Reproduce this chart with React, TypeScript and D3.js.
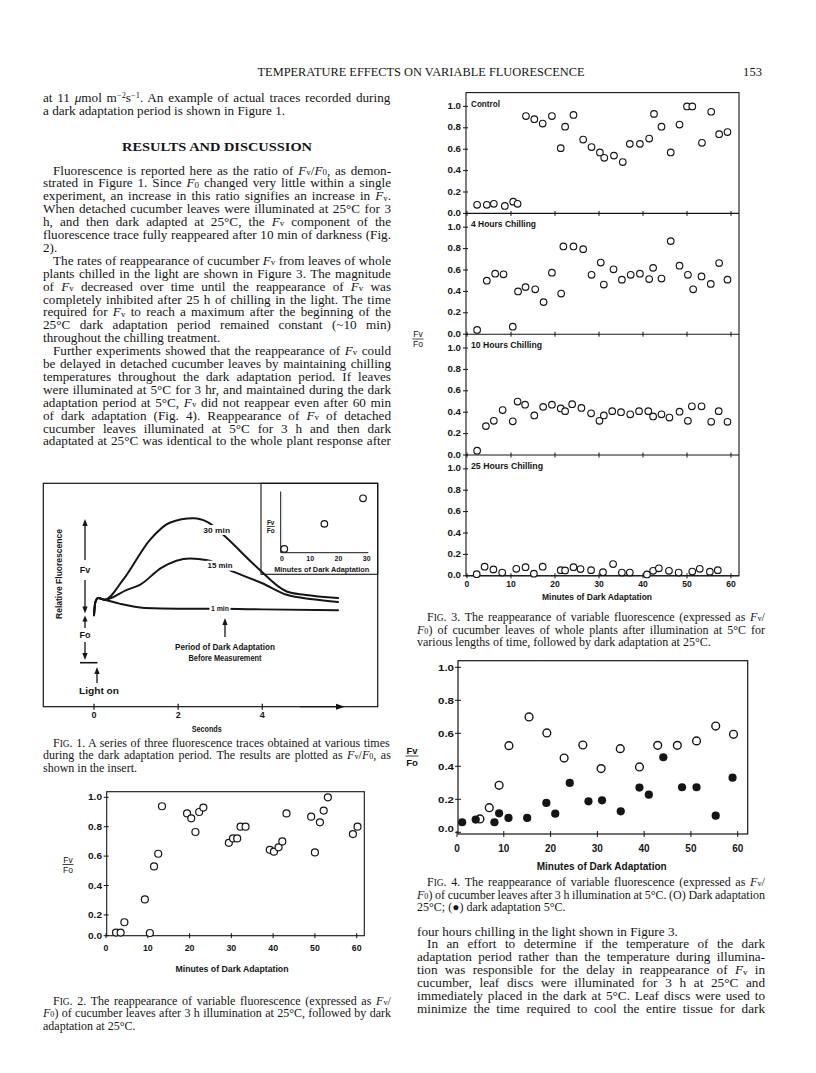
import React from 'react';
import * as d3 from 'd3';

const SERIF = '"Liberation Serif", "Times New Roman", serif';
const SANS = '"Liberation Sans", Arial, sans-serif';
const INK = '#151515';

// ---------- Fig. 3 data (minutes of dark adaptation, Fv/Fo) ----------
const controlMinutes = [2.3,4.5,6.1,8.6,10.5,11.5,13.4,15.3,17.2,19.3,21.3,22.3,24.2,26.4,28.3,30.2,31.2,33.4,35.4,37.0,39.3,41.4,42.5,44.2,46.3,48.3,50.0,51.2,53.4,55.5,57.3,59.2];
const controlFvFo = [0.08,0.08,0.09,0.07,0.11,0.09,0.91,0.88,0.84,0.91,0.61,0.81,0.92,0.69,0.62,0.57,0.52,0.54,0.48,0.65,0.65,0.70,0.93,0.81,0.57,0.83,1.0,1.0,0.66,0.95,0.74,0.76];
const chill4Minutes = [2.3,4.5,6.4,8.3,10.4,11.6,13.3,15.5,17.4,19.3,21.4,21.9,24.2,26.4,28.3,30.4,31.1,33.3,35.2,37.2,39.3,41.4,42.3,44.2,46.3,48.3,50.2,51.4,53.3,55.4,57.3,59.2];
const chill4FvFo = [0.04,0.50,0.565,0.56,0.07,0.40,0.44,0.42,0.30,0.575,0.38,0.82,0.82,0.795,0.555,0.67,0.464,0.607,0.51,0.555,0.565,0.515,0.62,0.52,0.87,0.64,0.555,0.42,0.54,0.47,0.665,0.51];
const chill10Minutes = [2.3,4.3,6.1,8.1,10.4,11.5,13.2,15.3,17.3,19.3,21.3,22.3,23.9,26.0,28.2,30.1,31.1,33.0,35.0,37.1,39.1,41.2,42.3,44.2,46.0,48.3,50.2,51.1,53.3,55.5,57.2,59.2];
const chill10FvFo = [0.04,0.27,0.32,0.42,0.315,0.50,0.47,0.37,0.45,0.47,0.435,0.41,0.475,0.44,0.39,0.32,0.37,0.41,0.40,0.38,0.41,0.41,0.36,0.38,0.35,0.405,0.32,0.455,0.455,0.31,0.41,0.31];
const chill25Minutes = [2.2,4.0,6.0,8.0,11.2,13.3,15.2,17.2,21.3,22.3,24.2,25.8,28.2,30.9,33.2,35.2,37.0,40.9,42.3,43.6,45.9,48.1,51.2,52.9,55.2,57.0];
const chill25FvFo = [0.015,0.085,0.06,0.03,0.065,0.08,0.02,0.085,0.053,0.05,0.08,0.063,0.053,0.034,0.11,0.03,0.03,0.013,0.047,0.07,0.047,0.03,0.04,0.065,0.038,0.053];
const fig3Labels = ['Control', '4 Hours Chilling', '10 Hours Chilling', '25 Hours Chilling'];

// ---------- Fig. 4 data ----------
const dark25Minutes = [4.9,6.9,9.0,11.1,15.4,19.2,22.9,26.9,30.8,34.9,39.0,42.9,47.1,51.2,55.3,59.1];
const dark25FvFo = [0.081,0.149,0.285,0.525,0.699,0.602,0.45,0.529,0.386,0.507,0.396,0.527,0.527,0.554,0.644,0.594];
const dark5Minutes = [1.1,4.0,8.0,9.0,11.0,15.0,19.1,21.0,24.1,28.1,31.0,35.0,39.0,41.0,44.1,48.1,51.2,55.3,58.9];
const dark5FvFo = [0.061,0.077,0.061,0.115,0.087,0.087,0.178,0.113,0.299,0.188,0.194,0.127,0.271,0.228,0.455,0.273,0.273,0.101,0.331];

// ---------- Fig. 2 data ----------
const fig2Minutes = [2.4,3.5,4.4,9.3,10.5,11.5,12.5,13.4,19.4,20.4,21.4,22.3,23.3,29.4,30.4,31.4,32.2,33.4,39.2,40.2,41.3,42.2,43.2,49.1,50.0,51.2,52.1,53.1,59.1,60.2];
const fig2FvFo = [0.08,0.08,0.15,0.305,0.077,0.53,0.616,0.939,0.89,0.857,0.764,0.9,0.93,0.69,0.72,0.72,0.8,0.8,0.643,0.63,0.66,0.70,0.89,0.868,0.625,0.83,0.91,1.0,0.75,0.80];

// ---------- Fig. 1 data (seconds, relative fluorescence in Fo units) ----------
const trace1Seconds = [0,0.03,0.1,0.25,0.6,1.2,2,3,4,5.8];
const trace1Fluor = [0.87,1.1,1.18,1.15,1.08,1.0,0.985,0.985,0.975,0.96];
const trace15Seconds = [0,0.03,0.1,0.25,0.78,1.09,1.6,2.28,2.7,3.31,4.0,4.58,5.2,5.8];
const trace15Fluor = [0.87,1.1,1.18,1.15,1.33,1.42,1.73,1.9,1.87,1.66,1.45,1.24,1.16,1.11];
const trace30Seconds = [0,0.03,0.1,0.25,0.69,1.33,1.8,2.36,2.7,3.07,3.86,4.58,5.0,5.8];
const trace30Fluor = [0.87,1.1,1.18,1.15,1.51,2.24,2.55,2.63,2.56,2.33,1.75,1.3,1.24,1.18];
const traceLabels = ['1 min', '15 min', '30 min'];
const insetMinutes = [0.8, 15, 28.7];
const insetFvFo = [0.07, 0.53, 1.0];
const secondsTicks = [0, 2, 4];
const insetTicks = [0, 10, 20, 30];

const minuteTicks = [0, 10, 20, 30, 40, 50, 60];
const ratioTicks = [0, 0.2, 0.4, 0.6, 0.8, 1.0];

// ---------- Text ----------
const headerText = 'TEMPERATURE EFFECTS ON VARIABLE FLUORESCENCE';
const leftLines: [string, boolean, boolean][] = [
  ['at 11 {*μ}mol m{^−2}s{^−1}. An example of actual traces recorded during', false, true],
  ['a dark adaptation period is shown in Figure 1.', false, false],
];
const leftBody: [string, boolean, boolean][] = [
  ['Fluorescence is reported here as the ratio of {*F}{_v}/{*F}{_0}, as demon-', true, true],
  ['strated in Figure 1. Since {*F}{_0} changed very little within a single', false, true],
  ['experiment, an increase in this ratio signifies an increase in {*F}{_v}.', false, true],
  ['When detached cucumber leaves were illuminated at 25°C for 3', false, true],
  ['h, and then dark adapted at 25°C, the {*F}{_v} component of the', false, true],
  ['fluorescence trace fully reappeared after 10 min of darkness (Fig.', false, true],
  ['2).', false, false],
  ['The rates of reappearance of cucumber {*F}{_v} from leaves of whole', true, true],
  ['plants chilled in the light are shown in Figure 3. The magnitude', false, true],
  ['of {*F}{_v} decreased over time until the reappearance of {*F}{_v} was', false, true],
  ['completely inhibited after 25 h of chilling in the light. The time', false, true],
  ['required for {*F}{_v} to reach a maximum after the beginning of the', false, true],
  ['25°C dark adaptation period remained constant (~10 min)', false, true],
  ['throughout the chilling treatment.', false, false],
  ['Further experiments showed that the reappearance of {*F}{_v} could', true, true],
  ['be delayed in detached cucumber leaves by maintaining chilling', false, true],
  ['temperatures throughout the dark adaptation period. If leaves', false, true],
  ['were illuminated at 5°C for 3 hr, and maintained during the dark', false, true],
  ['adaptation period at 5°C, {*F}{_v} did not reappear even after 60 min', false, true],
  ['of dark adaptation (Fig. 4). Reappearance of {*F}{_v} of detached', false, true],
  ['cucumber leaves illuminated at 5°C for 3 h and then dark', false, true],
  ['adaptated at 25°C was identical to the whole plant response after', false, true],
];
const rightBody: [string, boolean, boolean][] = [
  ['four hours chilling in the light shown in Figure 3.', false, false],
  ['In an effort to determine if the temperature of the dark', true, true],
  ['adaptation period rather than the temperature during illumina-', false, true],
  ['tion was responsible for the delay in reappearance of {*F}{_v} in', false, true],
  ['cucumber, leaf discs were illuminated for 3 h at 25°C and', false, true],
  ['immediately placed in the dark at 5°C. Leaf discs were used to', false, true],
  ['minimize the time required to cool the entire tissue for dark', false, true],
];
const fig1Caption: [string, boolean, boolean][] = [
  ['F{~IG}. 1. A series of three fluorescence traces obtained at various times', true, true],
  ['during the dark adaptation period. The results are plotted as {*F}{_v}/{*F}{_0}, as', false, true],
  ['shown in the insert.', false, false],
];
const fig2Caption: [string, boolean, boolean][] = [
  ['F{~IG}. 2. The reappearance of variable fluorescence (expressed as {*F}{_v}/', true, true],
  ['{*F}{_0}) of cucumber leaves after 3 h illumination at 25°C, followed by dark', false, true],
  ['adaptation at 25°C.', false, false],
];
const fig3Caption: [string, boolean, boolean][] = [
  ['F{~IG}. 3. The reappearance of variable fluorescence (expressed as {*F}{_v}/', true, true],
  ['{*F}{_0}) of cucumber leaves of whole plants after illumination at 5°C for', false, true],
  ['various lengths of time, followed by dark adaptation at 25°C.', false, false],
];
const fig4Caption: [string, boolean, boolean][] = [
  ['F{~IG}. 4. The reappearance of variable fluorescence (expressed as {*F}{_v}/', true, true],
  ['{*F}{_0}) of cucumber leaves after 3 h illumination at 5°C. (O) Dark adaptation', false, true],
  ['25°C; (●) dark adaptation 5°C.', false, false],
];

// ---------- rich text helpers ----------
type Seg = { t: string; it?: boolean; sh?: number; sc?: number };
function parse(s: string): Seg[] {
  const out: Seg[] = [];
  const re = /\{([*^_~])([^}]*)\}/g;
  let last = 0;
  let m: RegExpExecArray | null;
  while ((m = re.exec(s))) {
    if (m.index > last) out.push({ t: s.slice(last, m.index) });
    const k = m[1], t = m[2];
    if (k === '*') out.push({ t, it: true });
    else if (k === '^') out.push({ t, sh: -0.3, sc: 0.64 });
    else if (k === '_') out.push({ t, sh: 0.03, sc: 0.68 });
    else out.push({ t, sc: 0.78 });
    last = re.lastIndex;
  }
  if (last < s.length) out.push({ t: s.slice(last) });
  return out;
}
let ctx: CanvasRenderingContext2D | null = null;
function measure(seg: Seg, size: number, family: string, weight: string) {
  if (!ctx && typeof document !== 'undefined') ctx = document.createElement('canvas').getContext('2d');
  if (!ctx) return seg.t.length * size * 0.45;
  ctx.font = `${seg.it ? 'italic ' : ''}${weight} ${size * (seg.sc || 1)}px ${family}`;
  return ctx.measureText(seg.t).width;
}

function Rich({ x, y, s, size, width, family = SERIF, weight = 'normal', anchor = 'start' }:
  { x: number; y: number; s: string; size: number; width?: number; family?: string; weight?: string; anchor?: string }) {
  const segs = parse(s);
  let ws = 0;
  if (width) {
    const nat = segs.reduce((a, g) => a + measure(g, size, family, weight), 0);
    const spaces = segs.reduce((a, g) => a + (g.t.match(/ /g) || []).length, 0);
    if (spaces > 0) ws = (width - nat) / spaces;
  }
  let cur = 0;
  return (
    <text x={x} y={y} fontSize={size} fontFamily={family} fontWeight={weight} textAnchor={anchor as any} fill={INK}
      style={{ wordSpacing: ws ? `${ws}px` : undefined, whiteSpace: 'pre' }}>
      {segs.map((g, i) => {
        const target = (g.sh || 0) * size;
        const dy = target - cur;
        cur = target;
        return (
          <tspan key={i} dy={dy || undefined} fontStyle={g.it ? 'italic' : undefined} fontSize={g.sc ? size * g.sc : undefined}>{g.t}</tspan>
        );
      })}
    </text>
  );
}

function Block({ lines, x, right, y0, pitch, size, indent }:
  { lines: [string, boolean, boolean][]; x: number; right: number; y0: number; pitch: number; size: number; indent: number }) {
  return (
    <g>
      {lines.map(([s, ind, just], i) => {
        const lx = ind ? x + indent : x;
        return <Rich key={i} x={lx} y={y0 + i * pitch} s={s} size={size} width={just ? right - lx : undefined} />;
      })}
    </g>
  );
}

function Lbl({ x, y, t, size = 9, w, anchor = 'middle', weight = 'bold', rotate }:
  { x: number; y: number; t: string; size?: number; w?: number; anchor?: string; weight?: string; rotate?: number }) {
  return (
    <text x={x} y={y} fontSize={size} fontFamily={SANS} fontWeight={weight} fill={INK} textAnchor={anchor as any}
      dominantBaseline="central" textLength={w} lengthAdjust={w ? 'spacingAndGlyphs' : undefined}
      transform={rotate ? `rotate(${rotate} ${x} ${y})` : undefined}>{t}</text>
  );
}

function Frac({ x, y, size = 8, gap = 6, bar = 10, weight = 'normal' }: { x: number; y: number; size?: number; gap?: number; bar?: number; weight?: string }) {
  return (
    <g>
      <Lbl x={x} y={y - gap / 2 - 1} t="Fv" size={size} weight={weight} />
      <line x1={x - bar / 2} x2={x + bar / 2} y1={y} y2={y} stroke={INK} strokeWidth={0.8} />
      <Lbl x={x} y={y + gap / 2 + 1} t="Fo" size={size} weight={weight} />
    </g>
  );
}

function Arrow({ x1, y1, x2, y2, len = 7, half = 2.6, sw = 1.3 }: { x1: number; y1: number; x2: number; y2: number; len?: number; half?: number; sw?: number }) {
  const dx = x2 - x1, dy = y2 - y1;
  const L = Math.hypot(dx, dy) || 1;
  const ux = dx / L, uy = dy / L;
  const bx = x2 - ux * len, by = y2 - uy * len;
  const px = -uy * half, py = ux * half;
  return (
    <g>
      <line x1={x1} y1={y1} x2={bx + ux} y2={by + uy} stroke={INK} strokeWidth={sw} />
      <polygon points={`${x2},${y2} ${bx + px},${by + py} ${bx - px},${by - py}`} fill={INK} />
    </g>
  );
}

// ---------- Figure 3 ----------
function Fig3() {
  const left = 466, right = 739, top = 92.6, panelH = 120.8, unitH = 107;
  const x = d3.scaleLinear().domain([0, 60]).range([467, 731]);
  const series = [
    [controlMinutes, controlFvFo],
    [chill4Minutes, chill4FvFo],
    [chill10Minutes, chill10FvFo],
    [chill25Minutes, chill25FvFo],
  ];
  const bottomAll = top + 4 * panelH;
  const titleW = [29, 65, 71, 72];
  return (
    <g>
      <rect x={left} y={top} width={right - left} height={bottomAll - top} fill="none" stroke={INK} strokeWidth={1.1} />
      {series.map(([mins, vals], i) => {
        const b = top + (i + 1) * panelH;
        const y = d3.scaleLinear().domain([0, 1]).range([b, b - unitH]);
        return (
          <g key={i}>
            <line x1={left} x2={right} y1={b} y2={b} stroke={INK} strokeWidth={1.1} />
            {minuteTicks.map(t => <line key={t} x1={x(t)} x2={x(t)} y1={b - 2.5} y2={b + 2.5} stroke={INK} strokeWidth={1} />)}
            {ratioTicks.map(t => (
              <g key={t}>
                <line x1={left - 3} x2={left + 2} y1={y(t)} y2={y(t)} stroke={INK} strokeWidth={1} />
                <Lbl x={461} y={y(t)} t={t.toFixed(1)} size={8.2} anchor="end" w={13.5} />
              </g>
            ))}
            <Lbl x={left + 5} y={b - panelH + 11} t={fig3Labels[i]} size={8.6} anchor="start" w={titleW[i]} />
            {mins.map((m, j) => (
              <circle key={j} cx={x(m)} cy={y(vals[j])} r={3.3} fill="white" stroke={INK} strokeWidth={1.15} />
            ))}
          </g>
        );
      })}
      {minuteTicks.map(t => <Lbl key={t} x={x(t)} y={583.5} t={String(t)} size={8.6} />)}
      <Lbl x={597} y={596.5} t="Minutes of Dark Adaptation" size={8.8} w={110} />
      <Frac x={418} y={339} size={8.6} gap={8} bar={11} />
    </g>
  );
}

// ---------- Figure 4 ----------
function Fig4() {
  const x = d3.scaleLinear().domain([0, 60]).range([457, 737.7]);
  const y = d3.scaleLinear().domain([0, 1]).range([832.3, 667.3]);
  const left = 458, right = 747.7, top = 660.7, bottom = 834;
  return (
    <g>
      <rect x={left} y={top} width={right - left} height={bottom - top} fill="none" stroke={INK} strokeWidth={1.2} />
      {ratioTicks.map(t => (
        <g key={t}>
          <line x1={left - 3} x2={left + 3} y1={y(t)} y2={y(t)} stroke={INK} strokeWidth={1} />
          <Lbl x={454} y={y(t) + (t === 0 ? -4 : 0)} t={t.toFixed(1)} size={9.4} anchor="end" w={16} />
        </g>
      ))}
      {minuteTicks.map(t => (
        <g key={t}>
          <line x1={x(t)} x2={x(t)} y1={bottom - 3} y2={bottom + 3} stroke={INK} strokeWidth={1} />
          <Lbl x={x(t)} y={848} t={String(t)} size={10} />
        </g>
      ))}
      <Lbl x={601.7} y={866} t="Minutes of Dark Adaptation" size={10} w={130} />
      {dark25Minutes.map((m, j) => (
        <circle key={'o' + j} cx={x(m)} cy={y(dark25FvFo[j])} r={3.9} fill="white" stroke={INK} strokeWidth={1.4} />
      ))}
      {dark5Minutes.map((m, j) => (
        <circle key={'f' + j} cx={x(m)} cy={y(dark5FvFo[j])} r={4.1} fill={INK} />
      ))}
      <Frac x={412} y={756} size={9.5} gap={10} bar={13} weight="bold" />
    </g>
  );
}

// ---------- Figure 2 ----------
function Fig2() {
  const x = d3.scaleLinear().domain([0, 60]).range([106, 356.7]);
  const y = d3.scaleLinear().domain([0, 1]).range([944.3, 797.3]);
  const left = 106.7, right = 364.3, top = 791.7, bottom = 935.7;
  return (
    <g>
      <rect x={left} y={top} width={right - left} height={bottom - top} fill="none" stroke={INK} strokeWidth={1.1} />
      {ratioTicks.map(t => {
        const ty = t === 0 ? bottom : y(t);
        return (
          <g key={t}>
            <line x1={left - 3} x2={left + 2} y1={ty} y2={ty} stroke={INK} strokeWidth={1} />
            <Lbl x={102} y={ty} t={t.toFixed(1)} size={8.6} anchor="end" w={14} />
          </g>
        );
      })}
      {minuteTicks.map(t => (
        <g key={t}>
          <line x1={x(t)} x2={x(t)} y1={bottom - 2.5} y2={bottom + 2.5} stroke={INK} strokeWidth={1} />
          <Lbl x={x(t)} y={948} t={String(t)} size={8.8} />
        </g>
      ))}
      <Lbl x={232} y={968.5} t="Minutes of Dark Adaptation" size={8.8} w={113} />
      {fig2Minutes.map((m, j) => (
        <circle key={j} cx={x(m)} cy={y(fig2FvFo[j])} r={3.5} fill="white" stroke={INK} strokeWidth={1.2} />
      ))}
      <Frac x={68} y={864.5} size={8.5} gap={8} bar={11} />
    </g>
  );
}

// ---------- Figure 1 ----------
function Fig1() {
  const x = d3.scaleLinear().domain([0, 4]).range([94, 262.3]);
  const y = d3.scaleLinear().domain([0, 1]).range([663, 608]);
  const line = d3.line<[number, number]>().x(d => x(d[0])).y(d => y(d[1])).curve(d3.curveMonotoneX);
  const traces: [number[], number[]][] = [
    [trace1Seconds, trace1Fluor],
    [trace15Seconds, trace15Fluor],
    [trace30Seconds, trace30Fluor],
  ];
  const labelPos: [number, number, number][] = [[220, 608.3, 18], [220, 565.7, 25], [216.7, 530, 26.7]];
  const left = 43.3, right = 377.7, top = 483.3, bottom = 706.7;
  const ix = d3.scaleLinear().domain([0, 30]).range([282, 366.7]);
  const iy = d3.scaleLinear().domain([0, 1]).range([552.7, 498.3]);
  return (
    <g>
      <rect x={left} y={top} width={right - left} height={bottom - top} fill="none" stroke={INK} strokeWidth={1.2} />
      {traces.map(([ts, fs], i) => (
        <path key={i} d={line(ts.map((t, j) => [t, fs[j]] as [number, number])) || ''} fill="none" stroke={INK} strokeWidth={2} strokeLinecap="round" />
      ))}
      {labelPos.map(([lx, ly, w], i) => (
        <g key={i}>
          <rect x={lx - w / 2 - 1.5} y={ly - 5} width={w + 3} height={10} fill="white" />
          <Lbl x={lx} y={ly} t={traceLabels[i]} size={8} w={w} />
        </g>
      ))}
      <Arrow x1={300} y1={bottom} x2={345} y2={bottom} len={9} half={3} sw={1.2} />
      {secondsTicks.map(t => (
        <g key={t}>
          <line x1={x(t)} x2={x(t)} y1={bottom - 3} y2={bottom + 3} stroke={INK} strokeWidth={1.2} />
          <Lbl x={x(t)} y={715} t={String(t)} size={9} />
        </g>
      ))}
      <Lbl x={206.7} y={728.5} t="Seconds" size={9} w={30} />
      <Lbl x={58.5} y={574} t="Relative Fluorescence" size={8.5} w={90} rotate={-90} />
      <Arrow x1={85} y1={560} x2={85} y2={519} len={7} half={2.6} />
      <Arrow x1={85} y1={580} x2={85} y2={613.5} len={7} half={2.6} />
      <rect x={79} y={565} width={12} height={10} fill="white" />
      <Lbl x={85} y={570} t="Fv" size={9} />
      <Arrow x1={85} y1={628} x2={85} y2={615.5} len={6} half={2.6} />
      <Arrow x1={85} y1={642} x2={85} y2={660} len={7} half={2.6} />
      <Lbl x={85} y={635} t="Fo" size={9} />
      <line x1={80} x2={97.5} y1={662.7} y2={662.7} stroke={INK} strokeWidth={1.6} />
      <Arrow x1={97} y1={683} x2={97} y2={667} len={7} half={2.6} />
      <Lbl x={99} y={690.5} t="Light on" size={9} w={40} />
      <Arrow x1={225} y1={637} x2={225} y2={618} len={7} half={2.6} />
      <Lbl x={225} y={646.7} t="Period of Dark Adaptation" size={8.6} w={100} />
      <Lbl x={225} y={658.3} t="Before Measurement" size={8.6} w={73} />
      <rect x={261} y={top} width={right - 261} height={574.3 - top} fill="none" stroke={INK} strokeWidth={1.1} />
      <line x1={280.7} x2={280.7} y1={491.5} y2={552.7} stroke={INK} strokeWidth={1} />
      <line x1={280.7} x2={368.3} y1={552.7} y2={552.7} stroke={INK} strokeWidth={1} />
      {insetTicks.map(t => <Lbl key={t} x={ix(t)} y={558.3} t={String(t)} size={7} />)}
      <Lbl x={321.7} y={569} t="Minutes of Dark Adaptation" size={7} w={95} />
      {insetMinutes.map((m, j) => (
        <circle key={j} cx={ix(m)} cy={iy(insetFvFo[j])} r={3.3} fill="white" stroke={INK} strokeWidth={1.2} />
      ))}
      <Frac x={270.7} y={526.5} size={6.5} gap={6} bar={8} weight="bold" />
    </g>
  );
}

export default function App() {
  const body = 13.2;
  const cap = 12;
  return (
    <svg width={816} height={1073} viewBox="0 0 816 1073" style={{ position: 'absolute', left: 0, top: 0, background: 'white' }}>
      <rect x={0} y={0} width={816} height={1073} fill="white" />
      <text x={421} y={76} fontFamily={SERIF} fontSize={12.6} fill={INK} textAnchor="middle" textLength={327} lengthAdjust="spacingAndGlyphs">{headerText}</text>
      <text x={762} y={76} fontFamily={SERIF} fontSize={12.6} fill={INK} textAnchor="end">153</text>

      <Block lines={leftLines} x={43} right={391} y0={101.5} pitch={13.2} size={body} indent={10} />
      <text x={217} y={150.5} fontFamily={SERIF} fontSize={13.2} fontWeight="bold" fill={INK} textAnchor="middle" textLength={190} lengthAdjust="spacingAndGlyphs">RESULTS AND DISCUSSION</text>
      <Block lines={leftBody} x={43} right={391} y0={174.5} pitch={12.9} size={body} indent={10} />

      <Fig1 />
      <Block lines={fig1Caption} x={43} right={391} y0={746.5} pitch={12.5} size={cap} indent={10} />

      <Fig2 />
      <Block lines={fig2Caption} x={43} right={391} y0={1004.5} pitch={12.5} size={cap} indent={10} />

      <Fig3 />
      <Block lines={fig3Caption} x={417} right={765} y0={621} pitch={12.5} size={cap} indent={10} />

      <Fig4 />
      <Block lines={fig4Caption} x={417} right={765} y0={886} pitch={12.5} size={cap} indent={10} />

      <Block lines={rightBody} x={417} right={765} y0={935.5} pitch={12.9} size={body} indent={10} />
    </svg>
  );
}
